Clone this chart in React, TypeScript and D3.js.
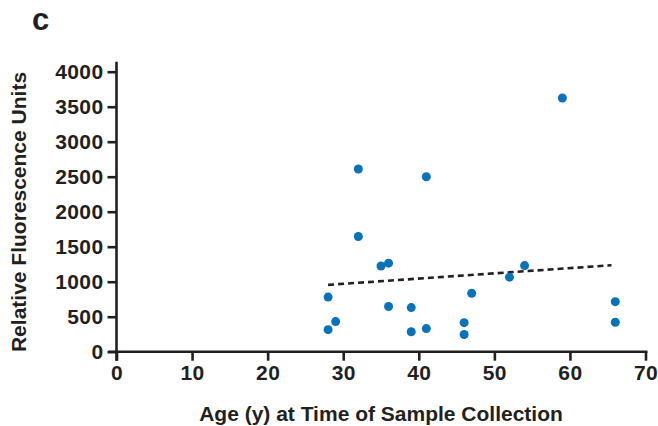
import { useEffect, useRef } from 'react';
import * as d3 from 'd3';

// ages (x) and relative fluorescence units (y)
const ages = [32, 41, 32, 35, 36, 28, 29, 28, 36, 39, 39, 41, 46, 46, 47, 52, 54, 59, 66, 66];
const rfu = [2610, 2500, 1645, 1225, 1265, 780, 430, 315, 645, 630, 285, 330, 415, 245, 835, 1065, 1230, 3625, 715, 420];

// fitted trend line end points
const trendAges = [28, 65.5];
const trendRfu = [955, 1235];

const xTicks = [0, 10, 20, 30, 40, 50, 60, 70];
const yTicks = [0, 500, 1000, 1500, 2000, 2500, 3000, 3500, 4000];

const panelLabel = 'c';
const xTitle = 'Age (y) at Time of Sample Collection';
const yTitle = 'Relative Fluorescence Units';

export default function App() {
    const ref = useRef<SVGSVGElement>(null);

    useEffect(() => {
        const width = 658;
        const height = 426;
        const ink = '#231f20';
        const font = '"Liberation Sans", Arial, sans-serif';

        const svg = d3.select(ref.current);
        svg.selectAll('*').remove();

        svg.append('rect')
            .attr('width', width)
            .attr('height', height)
            .attr('fill', '#fff');

        // scales
        const x = d3.scaleLinear().domain([0, 70]).range([116.5, 645.5]);
        const y = d3.scaleLinear().domain([0, 4000]).range([351.7, 71.7]);

        // x axis
        const xAxis = d3.axisBottom(x)
            .tickValues(xTicks)
            .tickFormat(d3.format('d'))
            .tickSize(9)
            .tickPadding(4)
            .tickSizeOuter(0);
        const gx = svg.append('g')
            .attr('transform', 'translate(0,' + y(0) + ')')
            .call(xAxis);
        gx.select('.domain').remove();
        gx.append('line')
            .attr('x1', x(0) - 8)
            .attr('x2', x(70) + 2)
            .attr('stroke', ink)
            .attr('stroke-width', 2.6);

        // y axis
        const yAxis = d3.axisLeft(y)
            .tickValues(yTicks)
            .tickFormat(d3.format('d'))
            .tickSize(9)
            .tickPadding(4)
            .tickSizeOuter(0);
        const gy = svg.append('g')
            .attr('transform', 'translate(' + x(0) + ',0)')
            .call(yAxis);
        gy.select('.domain').remove();
        gy.append('line')
            .attr('y1', y(0) + 9)
            .attr('y2', y(4000) - 10)
            .attr('stroke', ink)
            .attr('stroke-width', 2.6);

        [gx, gy].forEach(function(g) {
            g.selectAll('.tick line')
                .attr('stroke', ink)
                .attr('stroke-width', 2.6);
            g.selectAll('.tick text')
                .attr('fill', ink)
                .style('font-family', font)
                .style('font-weight', 'bold')
                .style('font-size', '21px')
                .style('letter-spacing', '0.4px');
        });

        // axis titles
        svg.append('text')
            .attr('x', (x(0) + x(70)) / 2)
            .attr('y', 421)
            .attr('text-anchor', 'middle')
            .attr('fill', ink)
            .style('font-family', font)
            .style('font-weight', 'bold')
            .style('font-size', '21px')
            .text(xTitle);

        svg.append('text')
            .attr('transform', 'translate(25.5,212) rotate(-90)')
            .attr('text-anchor', 'middle')
            .attr('fill', ink)
            .style('font-family', font)
            .style('font-weight', 'bold')
            .style('font-size', '21px')
            .text(yTitle);

        // panel letter
        svg.append('text')
            .attr('x', 32)
            .attr('y', 29.5)
            .attr('fill', ink)
            .style('font-family', font)
            .style('font-weight', 'bold')
            .style('font-size', '31px')
            .text(panelLabel);

        // trend line
        svg.append('line')
            .attr('x1', x(trendAges[0]))
            .attr('y1', y(trendRfu[0]))
            .attr('x2', x(trendAges[1]))
            .attr('y2', y(trendRfu[1]))
            .attr('stroke', ink)
            .attr('stroke-width', 2.6)
            .attr('stroke-dasharray', '6,4');

        // dots
        svg.selectAll('.dot')
            .data(ages).enter()
            .append('circle')
            .attr('class', 'dot')
            .attr('r', 4.5)
            .attr('cx', function(d) { return x(d); })
            .attr('cy', function(d, i) { return y(rfu[i]); })
            .attr('fill', '#0a72bb');
    }, []);

    return (
        <svg ref={ref} width={658} height={426}
            style={{ position: 'absolute', left: 0, top: 0, display: 'block' }} />
    );
}
